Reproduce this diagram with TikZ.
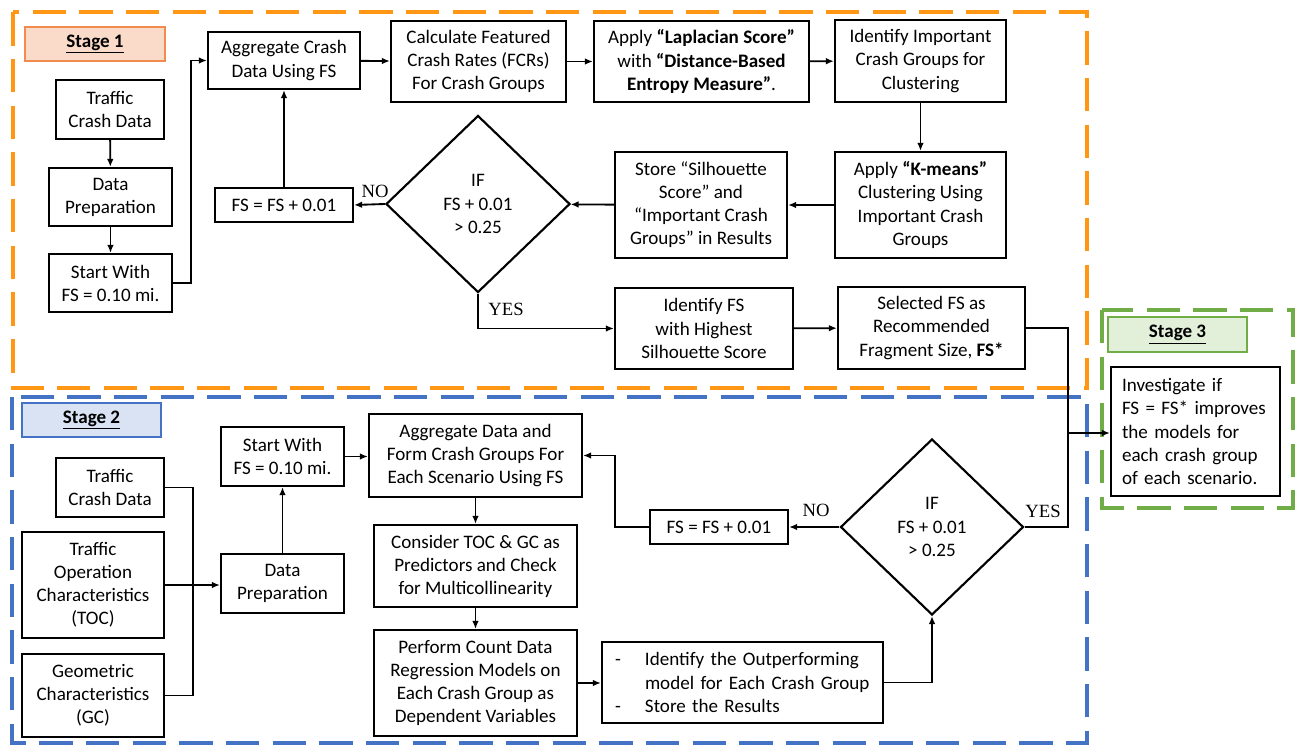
\documentclass[tikz,border=0pt]{standalone}
\usepackage{fontspec}
\setmainfont{Carlito}
\newfontfamily\timesf{Liberation Serif}
\usetikzlibrary{shapes.geometric,arrows.meta}
\definecolor{orng}{RGB}{255,150,20}
\definecolor{blu}{RGB}{68,114,196}
\definecolor{grn}{RGB}{112,173,71}
\definecolor{s1fill}{RGB}{250,218,200}
\definecolor{s1draw}{RGB}{240,140,80}
\definecolor{s2fill}{RGB}{218,227,243}
\definecolor{s3fill}{RGB}{226,240,217}
\newcommand\fs{\fontsize{14.3}{17.3}\selectfont}
\begin{document}
\begin{tikzpicture}[x=0.75pt,y=-0.75pt,
  box/.style={draw=black, line width=1.7pt, fill=white, align=center, font=\fs, inner xsep=2pt, inner ysep=1pt},
  sz/.style 2 args={minimum width=#1*0.75pt, minimum height=#2*0.75pt},
  dia/.style={diamond, aspect=1, draw=black, line width=1.6pt, fill=white, align=center, font=\fs, inner sep=0pt},
  stagelab/.style={line width=1.5pt, align=center, font=\fs\bfseries, inner sep=0pt},
  ln/.style={line width=1.4pt},
  arr/.style={line width=1.4pt, -{Latex[length=6pt,width=5pt]}},
  frame/.style={line width=3pt, dash pattern=on 25pt off 10pt},
  lab/.style={font=\timesf\fontsize{14}{16}\selectfont, inner sep=0pt}]
\useasboundingbox (0,0) rectangle (1296,745);
% frames
\draw[frame, draw=orng] (12.5,12.5) rectangle (1087,388);
\draw[frame, draw=blu] (12,397) rectangle (1087,743);
\draw[frame, draw=grn] (1102,310) rectangle (1293,508);
% ---------- Stage 1 ----------
\node[stagelab, draw=s1draw, fill=s1fill, sz={140}{34}] (s1lab) at (95,44) {\underline{Stage 1}};
\node[box, sz={108}{59}] (tcd1) at (110,109.5) {Traffic\\Crash Data};
\node[box, sz={123}{58}] (dp1) at (110.5,197) {Data\\Preparation};
\node[box, sz={123}{58}] (sw1) at (110.5,283) {Start With\\FS = 0.10 mi.};
\node[box, sz={152}{57}] (agg1) at (284,60.5) {Aggregate Crash\\Data Using FS};
\node[box, sz={175}{81}] (calc) at (478.5,61.5) {Calculate Featured\\Crash Rates (FCRs)\\For Crash Groups};
\node[box, sz={215}{81}] (lap) at (701.5,61.5) {Apply \textbf{“Laplacian Score”}\\with \textbf{“Distance-Based}\\\textbf{Entropy Measure”}.};
\node[box, sz={171}{82}] (impt) at (920.5,61) {Identify Important\\Crash Groups for\\Clustering};
\node[box, sz={171}{106}] (kmeans) at (920.5,205) {Apply \textbf{“K-means”}\\Clustering Using\\Important Crash\\Groups};
\node[box, sz={172}{106}] (store) at (701,205) {Store “Silhouette\\Score” and\\“Important Crash\\Groups” in Results};
\node[dia, sz={184}{177}] (d1) at (478,204) {IF\\FS + 0.01\\> 0.25};
\node[box, sz={138}{34}] (fs1) at (284,205) {FS = FS + 0.01};
\node[box, sz={178}{81}] (idfs) at (704,328.5) {Identify FS\\with Highest\\Silhouette Score};
\node[box, sz={187}{82}] (sel) at (931.5,328) {Selected FS as\\Recommended\\Fragment Size, \textbf{FS*}};
\node[lab] (no1) at (375,191) {NO};
\node[lab] (yes1) at (506,309) {YES};
% connectors stage 1
\draw[arr] (tcd1) -- (dp1);
\draw[arr] (dp1) -- (sw1);
\draw[arr] (sw1.east) -- ++(18,0) |- (agg1.west);
\draw[arr] (agg1) -- (calc);
\draw[arr] (calc) -- (lap);
\draw[arr] (lap) -- (impt);
\draw[arr] (impt) -- (kmeans);
\draw[arr] (kmeans) -- (store);
\draw[arr] (store) -- (d1);
\draw[arr] (d1.west) -- (fs1.east);
\draw[arr] (fs1) -- (agg1);
\draw[arr] (d1.south) |- (idfs.west);
\draw[arr] (idfs) -- (sel);
% ---------- Stage 3 ----------
\node[stagelab, draw=grn, fill=s3fill, sz={139}{35}] (s3lab) at (1177.5,334.5) {\underline{Stage 3}};
\node[box, sz={169}{129}, text width=147*0.75pt, align=left, inner xsep=11*0.75pt] (inv) at (1195.5,431.5) {Investigate if\\FS = FS* improves\\the models for\\each crash group\\of each scenario.};
% ---------- Stage 2 ----------
\node[stagelab, draw=blu, fill=s2fill, sz={139}{34}] (s2lab) at (91.5,420) {\underline{Stage 2}};
\node[box, sz={108}{59}] (tcd2) at (110,487.5) {Traffic\\Crash Data};
\node[box, sz={142}{106}] (toc) at (93,585) {Traffic\\Operation\\Characteristics\\(TOC)};
\node[box, sz={142}{83}] (gc) at (93,695.5) {Geometric\\Characteristics\\(GC)};
\node[box, sz={123}{59}] (dp2) at (282.5,583.5) {Data\\Preparation};
\node[box, sz={123}{59}] (sw2) at (282.5,456.5) {Start With\\FS = 0.10 mi.};
\node[box, sz={213}{83}] (agg2) at (475.5,455.5) {Aggregate Data and\\Form Crash Groups For\\Each Scenario Using FS};
\node[box, sz={203}{82}] (cons) at (475.5,566) {Consider TOC \& GC as\\Predictors and Check\\for Multicollinearity};
\node[box, sz={203}{106}] (perf) at (475.5,683) {Perform Count Data\\Regression Models on\\Each Crash Group as\\Dependent Variables};
\node[box, sz={281}{81}, text width=255*0.75pt, align=left, inner xsep=13*0.75pt] (outp) at (742.5,682.5) {\makebox[22.5pt][l]{-}Identify the Outperforming\\\hspace*{22.5pt}model for Each Crash Group\\\makebox[22.5pt][l]{-}Store the Results};
\node[box, sz={138}{34}] (fs2) at (719,527) {FS = FS + 0.01};
\node[dia, sz={183}{176}] (d2) at (932,527) {IF\\FS + 0.01\\> 0.25};
\node[lab] (no2) at (816,510) {NO};
\node[lab] (yes2) at (1043,511) {YES};
\coordinate (bus) at (193,584);
\coordinate (j) at (1068,433);
% connectors stage 2
\draw[ln] (tcd2.east) -| (bus);
\draw[ln] (gc.east) -| (bus);
\draw[arr] (toc.east) -- (toc.east -| dp2.west);
\draw[arr] (dp2) -- (sw2);
\draw[arr] (sw2.east) -- (sw2.east -| agg2.west);
\draw[arr] (agg2) -- (cons);
\draw[arr] (cons) -- (perf);
\draw[arr] (perf.east) -- (perf.east -| outp.west);
\draw[arr] (outp.east) -| (d2.south);
\draw[arr] (d2.west) -- (fs2.east);
\draw[arr] (fs2.west) -- ++(-34,0) |- (agg2.east);
% to stage 3
\draw[ln] (sel.east) -| (j);
\draw[ln] (d2.east) -| (j);
\draw[arr] (j) -- (j -| inv.west);
\end{tikzpicture}
\end{document}
